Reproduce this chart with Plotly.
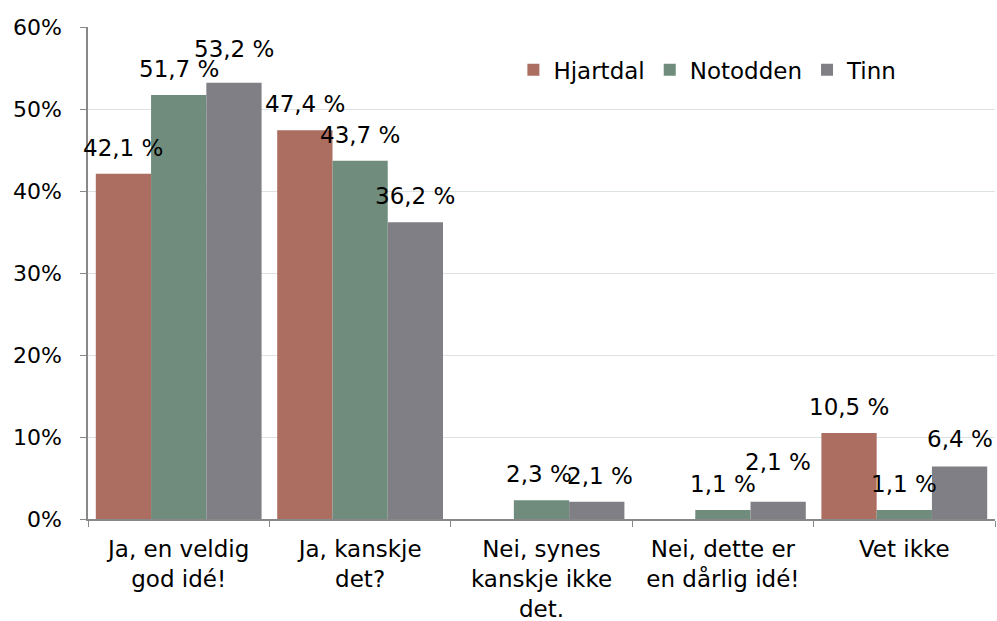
import plotly.graph_objects as go

categories = ["Ja, en veldig<br>god idé!", "Ja, kanskje<br>det?", "Nei, synes<br>kanskje ikke<br>det.",
              "Nei, dette er<br>en dårlig idé!", "Vet ikke"]
series_names = ["Hjartdal", "Notodden", "Tinn"]
hjartdal = [42.1, 47.4, 0.0, 0.0, 10.5]
notodden = [51.7, 43.7, 2.3, 1.1, 1.1]
tinn = [53.2, 36.2, 2.1, 2.1, 6.4]
y_ticks = [0, 10, 20, 30, 40, 50, 60]
y_tick_labels = ["0%", "10%", "20%", "30%", "40%", "50%", "60%"]

colors = ["#AD6E62", "#6F8C7C", "#807F85"]
all_values = [hjartdal, notodden, tinn]

FONT = "DejaVu Sans, Liberation Sans, Arial, sans-serif"
FS = 23
BARGAP = 0.086

fig = go.Figure()
for name, vals, col in zip(series_names, all_values, colors):
    fig.add_trace(go.Bar(name=name, x=categories, y=vals, marker=dict(color=col, line=dict(width=0))))

# label offsets (pixel tweaks) to mimic hand placed labels
ytweak = {(2, 0): 8, (2, 3): 14, (2, 4): 2}
xtweak = {(1, 2): -3, (2, 2): 3}
bw = (1 - BARGAP) / 3
annotations = []
for si, vals in enumerate(all_values):
    for ci, v in enumerate(vals):
        if v == 0:
            continue
        annotations.append(dict(
            x=ci + (si - 1) * bw, y=v, xref="x", yref="y",
            text=f"{v:.1f} %".replace(".", ","),
            showarrow=False, yanchor="bottom", xanchor="center",
            yshift=11 + ytweak.get((si, ci), 0),
            xshift=xtweak.get((si, ci), 0),
            font=dict(family=FONT, size=FS, color="#000000"),
        ))

fig.update_layout(
    width=997, height=621,
    margin=dict(l=88, r=2, t=27, b=102),
    paper_bgcolor="white", plot_bgcolor="white",
    barmode="group", bargap=BARGAP, bargroupgap=0,
    font=dict(family=FONT, size=FS, color="#000000"),
    showlegend=True,
    legend=dict(orientation="h", x=0.469, y=0.913, xanchor="left", yanchor="middle",
                font=dict(family=FONT, size=FS, color="#000000"),
                itemwidth=30, tracegroupgap=0, bgcolor="rgba(0,0,0,0)"),
    annotations=annotations,
)
fig.update_xaxes(
    type="category", range=[-0.5, 4.5], domain=[0, 1], showline=True, linecolor="#888888", linewidth=1.5,
    ticks="outside", tickson="boundaries", ticklen=6, tickcolor="#888888",
    showgrid=False, automargin=False, ticklabelstandoff=9,
    tickfont=dict(family=FONT, size=FS, color="#000000"),
)
fig.update_yaxes(
    range=[0, 60], tickvals=y_ticks, ticktext=y_tick_labels,
    showline=True, linecolor="#888888", linewidth=1.5,
    ticks="outside", ticklen=6, tickcolor="#888888",
    showgrid=True, gridcolor="#DCE2DF", gridwidth=1.3,
    zeroline=False, ticklabelstandoff=14, automargin=False,
    tickfont=dict(family=FONT, size=22, color="#000000"),
)

fig.write_html(
    "out.html",
    config={"displayModeBar": False},
    post_script="document.body.style.margin='0';document.body.style.overflow='hidden';",
)
